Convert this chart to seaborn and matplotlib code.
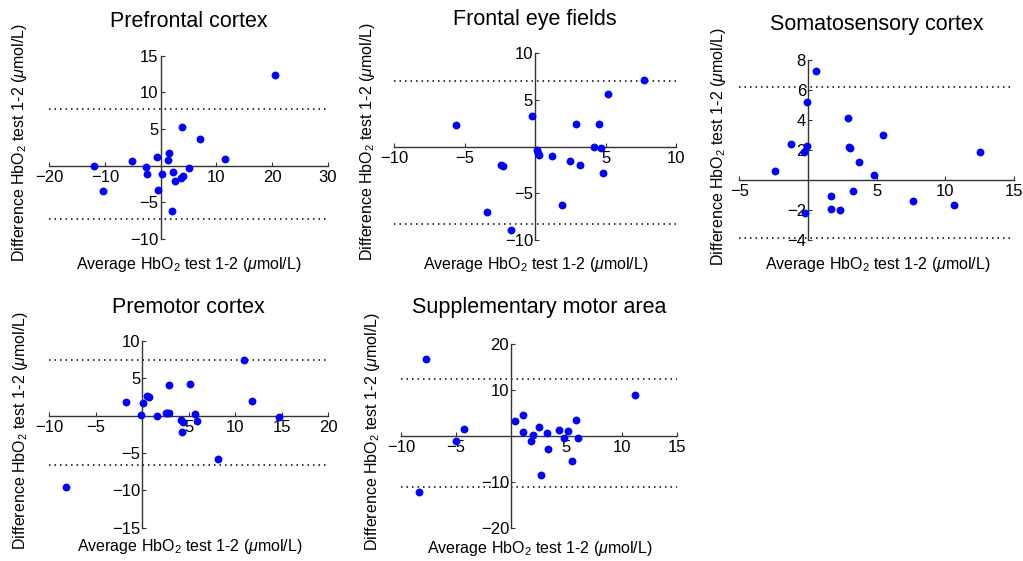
import numpy as np
import pandas as pd
import matplotlib
matplotlib.use("Agg")
import matplotlib.pyplot as plt
import seaborn as sns

# ---------------- data ----------------
titles = ["Prefrontal cortex", "Frontal eye fields", "Somatosensory cortex",
          "Premotor cortex", "Supplementary motor area"]

pfc_avg = [20.5, 3.8, 7.1, 11.6, 1.5, -0.6, 1.3, -5.1, -11.9, -2.6, 5.0, -2.4, 0.2,
           2.2, 4.0, 3.7, 2.5, -10.4, -0.5, 2.0]
pfc_diff = [12.3, 5.3, 3.6, 0.95, 1.7, 1.2, 0.8, 0.7, 0.0, -0.15, -0.35, -1.15, -1.2,
            -0.85, -1.35, -1.7, -2.1, -3.45, -3.35, -6.2]

fef_avg = [7.7, 5.2, -0.2, -5.6, 2.9, 4.5, 4.2, 4.7, 0.15, 0.2, 0.25, 1.2, 2.45,
           3.15, -2.4, -2.3, 4.85, 1.9, -3.45, -1.7]
fef_diff = [7.1, 5.6, 3.25, 2.3, 2.4, 2.4, 0.0, -0.1, -0.4, -0.65, -0.9, -0.95, -1.5,
            -2.0, -2.0, -2.1, -2.8, -6.25, -7.0, -8.9]

ssc_avg = [0.55, -0.05, 2.9, 5.45, -1.2, -0.05, 3.0, 3.05, -0.3, 12.5, 3.7, -2.4,
           4.8, 3.3, 1.65, 7.65, 10.6, 1.65, 2.35, -0.25]
ssc_diff = [7.25, 5.2, 4.1, 3.0, 2.4, 2.25, 2.2, 2.15, 1.85, 1.85, 1.2, 0.6, 0.35,
            -0.75, -1.05, -1.4, -1.65, -1.95, -2.0, -2.2]

pmc_avg = [10.9, 5.1, 2.85, 0.55, 0.7, -1.8, 0.05, 11.75, -0.1, 1.55, 2.5, 2.7, 2.85,
           5.65, 14.7, 4.2, 4.35, 5.85, 4.3, 8.15, -8.2]
pmc_diff = [7.4, 4.3, 4.15, 2.7, 2.45, 1.8, 1.75, 2.0, 0.1, -0.05, 0.4, 0.4, 0.4,
            0.25, -0.2, -0.55, -0.8, -0.75, -2.25, -5.85, -9.6]

sma_avg = [-7.7, 11.2, 1.05, 0.3, 5.85, 2.55, -4.3, 4.3, 5.15, 1.05, 3.25, 2.0, 4.75,
           6.05, -5.0, 1.8, 3.3, 5.5, 2.65, -8.4]
sma_diff = [16.9, 8.9, 4.7, 3.3, 3.45, 2.0, 1.55, 1.4, 1.25, 0.95, 0.75, 0.2, -0.3,
            -0.35, -1.1, -1.1, -2.8, -5.45, -8.4, -12.0]

loa_upper = [7.7, 7.0, 6.2, 7.45, 12.35]
loa_lower = [-7.3, -8.3, -3.85, -6.65, -11.0]

x_limits = [(-20, 30), (-10, 10), (-5, 15), (-10, 20), (-10, 15)]
y_limits = [(-10, 15), (-10, 10), (-4, 8), (-15, 10), (-20, 20)]
x_tick_vals = [[-20, -10, 10, 20, 30], [-10, -5, 5, 10], [-5, 5, 10, 15],
               [-10, -5, 5, 10, 15, 20], [-10, -5, 5, 10, 15]]
y_tick_vals = [[-10, -5, 5, 10, 15], [-10, -5, 5, 10], [-4, -2, 2, 4, 6, 8],
               [-15, -10, -5, 5, 10], [-20, -10, 10, 20]]

x_label = r"Average HbO$_2$ test 1-2 ($\mu$mol/L)"
y_label = r"Difference HbO$_2$ test 1-2 ($\mu$mol/L)"

series = [(pfc_avg, pfc_diff), (fef_avg, fef_diff), (ssc_avg, ssc_diff),
          (pmc_avg, pmc_diff), (sma_avg, sma_diff)]

# ---------------- layout (pixels) ----------------
W, H = 1023, 561
# left, right, top, bottom of each axes box
boxes = [(49.3, 327.7, 55.7, 239.0), (394.3, 676.0, 53.3, 240.0),
         (739.3, 1014.0, 60.0, 240.0), (49.3, 328.3, 341.0, 527.7),
         (401.0, 676.7, 344.3, 528.3)]
title_base = [26.7, 25.0, 30.0, 313.3, 313.3]
xlab_pos = [(189, 264), (536, 264), (878, 264), (190, 547), (540, 548)]
ylab_pos = [(20, 143), (367.5, 142), (719, 147), (21, 431), (372, 432)]

# ---------------- style ----------------
sns.set_style("white")
plt.rcParams["font.family"] = ["Liberation Sans", "DejaVu Sans"]
plt.rcParams["mathtext.fontset"] = "custom"
plt.rcParams["mathtext.rm"] = "Liberation Sans"
plt.rcParams["mathtext.it"] = "Liberation Sans:italic"
plt.rcParams["mathtext.bf"] = "Liberation Sans:bold"
plt.rcParams["axes.unicode_minus"] = True
plt.rcParams["text.color"] = "black"
plt.rcParams["axes.labelcolor"] = "black"
plt.rcParams["axes.titlecolor"] = "black"

fig = plt.figure(figsize=(W / 100, H / 100), dpi=100)

axis_col = "#333333"
for i in range(5):
    l, r, t, b = boxes[i]
    ax = fig.add_axes([l / W, 1 - b / H, (r - l) / W, (b - t) / H])
    xs, ys = series[i]
    df = pd.DataFrame({"avg": xs, "diff": ys})
    sns.scatterplot(data=df, x="avg", y="diff", ax=ax, color="#0000ff",
                    s=32, linewidth=0, zorder=4, clip_on=False)
    ax.axhline(loa_upper[i], color="black", lw=1.1, ls=(0, (1, 2.6)), zorder=2)
    ax.axhline(loa_lower[i], color="black", lw=1.1, ls=(0, (1, 2.6)), zorder=2)

    ax.set_xlim(*x_limits[i])
    ax.set_ylim(*y_limits[i])
    ax.set_xticks(x_tick_vals[i])
    ax.set_yticks(y_tick_vals[i])
    ax.set_xticklabels([f"{v:d}".replace("-", "\u2212") for v in x_tick_vals[i]])
    ax.set_yticklabels([f"{v:d}".replace("-", "\u2212") for v in y_tick_vals[i]])

    for sp in ["top", "right"]:
        ax.spines[sp].set_visible(False)
    ax.spines["left"].set_position(("data", 0))
    ax.spines["bottom"].set_position(("data", 0))
    for sp in ["left", "bottom"]:
        ax.spines[sp].set_color(axis_col)
        ax.spines[sp].set_linewidth(1.0)
        ax.spines[sp].set_zorder(3)
    ax.xaxis.set_ticks_position("bottom")
    ax.yaxis.set_ticks_position("left")
    ax.tick_params(axis="both", direction="in", length=3, width=0.8,
                   color=axis_col, labelcolor="black", labelsize=12)
    ax.tick_params(axis="x", pad=3)
    ax.tick_params(axis="y", pad=1.5)
    ax.grid(False)
    ax.patch.set_alpha(0)

    ax.set_xlabel(x_label, fontsize=11.5, va="center", color="black")
    ax.set_ylabel(y_label, fontsize=11.5, va="center", color="black")
    ax.xaxis.set_label_coords(xlab_pos[i][0] / W, 1 - xlab_pos[i][1] / H,
                              transform=fig.transFigure)
    ax.yaxis.set_label_coords(ylab_pos[i][0] / W, 1 - ylab_pos[i][1] / H,
                              transform=fig.transFigure)

    ty = 1 + (t - title_base[i]) / (b - t)
    ax.set_title(titles[i], fontsize=15.5, y=ty, pad=0, va="baseline",
                 color="black")

fig.savefig("out.png", dpi=100, facecolor="white")
